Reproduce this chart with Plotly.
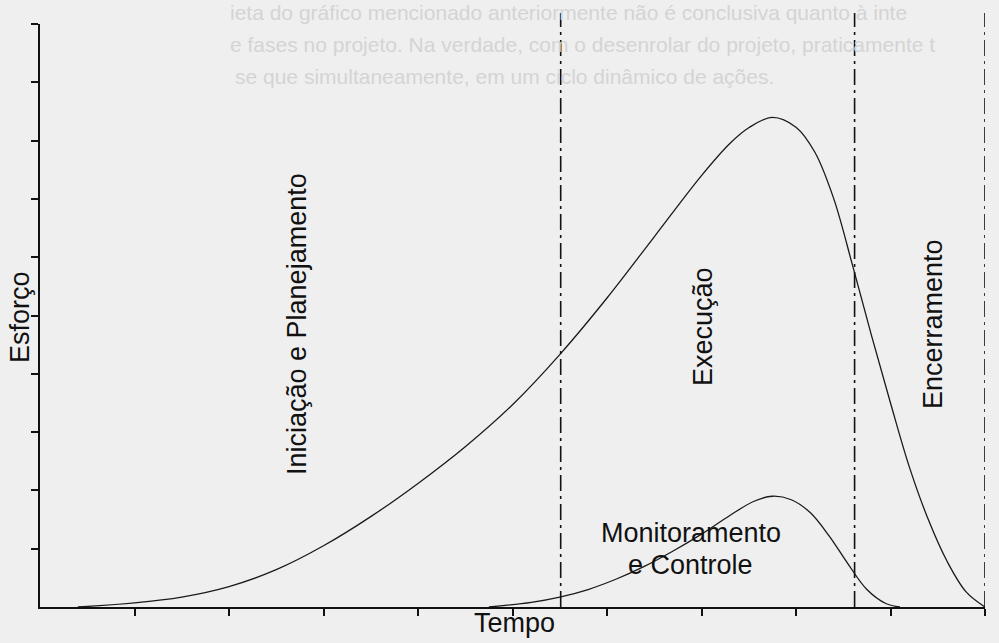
import plotly.graph_objects as go

# ---- data ----
effort_x = [0.4, 1.0, 1.5, 2.0, 2.5, 3.0, 3.5, 4.0, 4.5, 5.0, 5.5, 6.0, 6.5, 7.0, 7.3, 7.5,
            7.75, 8.0, 8.2, 8.4, 8.6, 8.8, 9.0, 9.2, 9.4, 9.6, 9.8, 10.0]
effort_y = [0.0, 0.07, 0.17, 0.35, 0.64, 1.05, 1.55, 2.12, 2.75, 3.47, 4.33, 5.30, 6.35, 7.40,
            7.95, 8.22, 8.40, 8.23, 7.80, 7.00, 5.85, 4.65, 3.50, 2.40, 1.50, 0.78, 0.26, 0.0]

monitor_x = [4.75, 5.2, 5.5, 5.8, 6.1, 6.4, 6.7, 7.0, 7.3, 7.55, 7.75, 7.95, 8.15, 8.35,
             8.55, 8.75, 8.95, 9.1]
monitor_y = [0.0, 0.08, 0.17, 0.30, 0.48, 0.70, 0.96, 1.25, 1.57, 1.81, 1.90, 1.84, 1.62,
             1.22, 0.74, 0.30, 0.06, 0.0]

phase_bounds = [5.51, 8.62, 10.0]
tick_vals = [1, 2, 3, 4, 5, 6, 7, 8, 9, 10]

phase_labels = ["Iniciação e Planejamento", "Execução", "Encerramento"]
monitor_label = ["Monitoramento", "e Controle"]
x_title = "Tempo"
y_title = "Esforço"
bleed_lines = [
    "ieta do gráfico mencionado anteriormente não é conclusiva quanto à inte",
    "e fases no projeto. Na verdade, com o desenrolar do projeto, praticamente t",
    "se que simultaneamente, em um ciclo dinâmico de ações.",
]

# ---- layout geometry (pixels) ----
W, H = 999, 643
L, R, T, B = 40, 14, 24, 36
PW, PH = W - L - R, H - T - B


def px(xp):
    return (xp - L) / PW


def py(yp):
    return (H - B - yp) / PH


FONT = "Liberation Sans, Arial, sans-serif"
BG = "#efefef"
FS = 27

fig = go.Figure()
fig.add_trace(go.Scatter(x=effort_x, y=effort_y, mode="lines",
                         line=dict(color="#1a1a1a", width=1.3, shape="spline", smoothing=1.0),
                         hoverinfo="skip", showlegend=False))
fig.add_trace(go.Scatter(x=monitor_x, y=monitor_y, mode="lines",
                         line=dict(color="#1a1a1a", width=1.3, shape="spline", smoothing=1.0),
                         hoverinfo="skip", showlegend=False))

for xb in phase_bounds:
    fig.add_shape(type="line", xref="x", yref="paper", x0=xb, x1=xb, y0=0, y1=py(13),
                  line=dict(color="#111", width=1.6, dash="16px,5px,3px,5px"))

annos = []
# bleed-through text of the scanned page
for i, t in enumerate(bleed_lines):
    annos.append(dict(text=t, xref="paper", yref="paper", x=px(228 + (5 if i == 2 else 0)),
                      y=py(12 + 32 * i), xanchor="left", yanchor="middle", showarrow=False,
                      font=dict(family=FONT, size=21, color="#d4d4d4")))

phase_pos = [(297, 324), (703, 327), (933, 324)]
for lab, (xp, yp) in zip(phase_labels, phase_pos):
    annos.append(dict(text=lab, xref="paper", yref="paper", x=px(xp), y=py(yp),
                      textangle=-90, showarrow=False, xanchor="center", yanchor="middle",
                      font=dict(family=FONT, size=FS, color="#111")))

for lab, (xp, yp) in zip(monitor_label, [(691, 533), (690, 565)]):
    annos.append(dict(text=lab, xref="paper", yref="paper", x=px(xp), y=py(yp),
                      showarrow=False, xanchor="center", yanchor="middle",
                      font=dict(family=FONT, size=FS, color="#111")))

annos.append(dict(text=x_title, xref="paper", yref="paper", x=px(514), y=py(623),
                  showarrow=False, xanchor="center", yanchor="middle",
                  font=dict(family=FONT, size=FS, color="#111")))
annos.append(dict(text=y_title, xref="paper", yref="paper", x=px(20), y=py(317),
                  textangle=-90, showarrow=False, xanchor="center", yanchor="middle",
                  font=dict(family=FONT, size=FS, color="#111")))

fig.update_layout(
    width=W, height=H,
    margin=dict(l=L, r=R, t=T, b=B, pad=0),
    paper_bgcolor=BG, plot_bgcolor=BG,
    annotations=annos,
    showlegend=False,
    xaxis=dict(range=[0, 10], showgrid=False, zeroline=False, showline=True,
               linecolor="#111", linewidth=2, ticks="outside", ticklen=7, tickwidth=1.5,
               tickcolor="#111", tickvals=tick_vals, showticklabels=False, fixedrange=True),
    yaxis=dict(range=[0, 10], showgrid=False, zeroline=False, showline=True,
               linecolor="#111", linewidth=2, ticks="outside", ticklen=7, tickwidth=1.5,
               tickcolor="#111", tickvals=tick_vals, showticklabels=False, fixedrange=True),
)

fig.write_html("out.html")
